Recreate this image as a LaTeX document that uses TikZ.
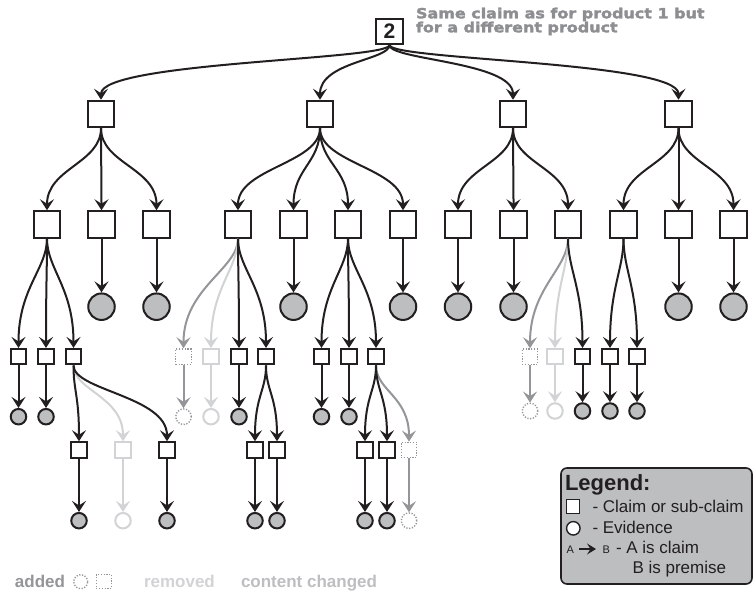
\documentclass[tikz,border=0pt]{standalone}
\usepackage{fontspec}
\setmainfont{Liberation Sans}
\newfontfamily\notefont[FakeStretch=1.14, FakeBold=2.2]{DejaVu Sans Bold}
\usetikzlibrary{arrows.meta}

\definecolor{ink}{HTML}{231F20}
\definecolor{leafgray}{HTML}{BCBEC0}
\definecolor{addgray}{HTML}{939598}
\definecolor{remgray}{HTML}{D1D3D4}
\definecolor{notegray}{HTML}{8C8E91}

\begin{document}
\begin{tikzpicture}[x=1pt, y=-1pt, line width=2pt,
    claim/.style={draw=ink, fill=white, minimum size=26.5pt, inner sep=0pt},
    subclaim/.style={draw=ink, fill=white, minimum size=15.5pt, inner sep=0pt},
    evidence/.style={circle, draw=ink, fill=leafgray, minimum size=26.5pt, inner sep=0pt},
    subevidence/.style={circle, draw=ink, fill=leafgray, minimum size=15.5pt, inner sep=0pt},
    added/.style={draw=addgray, fill=white, line width=1.4pt, dash pattern=on 1.2pt off 1.6pt},
    removed/.style={draw=remgray, fill=white},
    link/.style={draw=ink, -{Stealth[length=11pt,width=14pt,inset=4.5pt]}},
    addlink/.style={link, draw=addgray},
    remlink/.style={link, draw=remgray},
    label/.style={inner sep=0pt, anchor=base west}]

  \useasboundingbox (0,0) rectangle (753,594);

  % top claim
  \node[claim, minimum width=27pt, minimum height=25pt, font=\bfseries\fontsize{21}{21}\selectfont, text=ink] (root) at (389.5,31.5) {2};
  \node[label, text=notegray, font=\notefont\fontsize{14}{14}\selectfont] (note1) at (415,18.3) {Same claim as for product 1 but};
  \node[label, text=notegray, font=\notefont\fontsize{14}{14}\selectfont] (note2) at (415,32.3) {for a different product};

  % sub-claims, first level
  \foreach \n/\x in {c1/101, c2/320, c3/513, c4/678.5}
    \node[claim] (\n) at (\x,114) {};

  % sub-claims, second level
  \foreach \n/\x in {c11/47, c12/101.5, c13/156.5, c21/238, c22/293.5, c23/348, c24/403,
                     c31/458, c32/513.5, c33/568, c41/623.5, c42/678.5, c43/733.5}
    \node[claim] (\n) at (\x,224.5) {};

  % evidence under second level
  \foreach \n/\x in {e12/101.5, e13/156.5, e22/293.5, e24/403, e31/458, e32/513.5, e42/678.5, e43/733.5}
    \node[evidence] (\n) at (\x,306.7) {};

  % small sub-claims
  \foreach \n/\x/\s in {s111/18.5/, s112/46/, s113/73.5/, s211/183.5/added, s212/211/removed, s213/239/, s214/266/,
                        s231/321.5/, s232/349/, s233/376/, s331/530/added, s332/555/removed, s333/582.5/,
                        s411/610/, s412/637/}
    \node[subclaim, \s] (\n) at (\x,356.7) {};

  % small evidence
  \foreach \n/\x/\y/\s in {v111/18.5/416.7/, v112/46/416.7/, v211/183.5/416.7/added, v212/211/416.7/removed,
                           v213/239/416.7/, v231/321.5/416.7/, v232/349/416.7/,
                           v331/530/411/added, v332/555/411/removed, v333/582.5/411/, v411/610/411/, v412/637/411/}
    \node[subevidence, \s] (\n) at (\x,\y) {};

  % lowest sub-claims and their evidence
  \foreach \i/\x/\s in {1/79/, 2/123/removed, 3/167/, 4/255/, 5/277/, 6/365/, 7/387/, 8/409/added} {
    \node[subclaim, \s] (t\i) at (\x,450) {};
    \node[subevidence, \s] (w\i) at (\x,520.7) {};
  }

  % links
  \foreach \c in {c1, c2, c3, c4}
    \draw[link] (root.south) .. controls +(0,15) and +(0,-38) .. (\c.north);

  \foreach \p/\c in {c1/c11, c1/c12, c1/c13, c2/c21, c2/c22, c2/c23, c2/c24,
                     c3/c31, c3/c32, c3/c33, c4/c41, c4/c42, c4/c43}
    \draw[link] (\p.south) .. controls +(0,35) and +(0,-42) .. (\c.north);

  \foreach \p/\c/\s in {c21/s211/addlink, c21/s212/remlink, c33/s331/addlink, c33/s332/remlink,
                        c11/s111/link, c11/s112/link, c11/s113/link, c21/s213/link, c21/s214/link,
                        c23/s231/link, c23/s232/link, c23/s233/link, c33/s333/link,
                        c41/s411/link, c41/s412/link}
    \draw[\s] (\p.south) .. controls +(0,30) and +(0,-60) .. (\c.north);

  \foreach \p/\c in {c12/e12, c13/e13, c22/e22, c24/e24, c31/e31, c32/e32, c42/e42, c43/e43}
    \draw[link] (\p) -- (\c.north);

  \foreach \p/\c/\s in {s111/v111/link, s112/v112/link, s211/v211/addlink, s212/v212/remlink,
                        s213/v213/link, s231/v231/link, s232/v232/link, s331/v331/addlink,
                        s332/v332/remlink, s333/v333/link, s411/v411/link, s412/v412/link}
    \draw[\s] (\p) -- (\c.north);

  \foreach \p/\c/\s in {s113/t2/remlink, s233/t8/addlink, s113/t1/link, s113/t3/link,
                        s214/t4/link, s214/t5/link, s233/t6/link, s233/t7/link}
    \draw[\s] (\p.south) .. controls +(0,25) and +(0,-45) .. (\c.north);

  \foreach \i/\s in {1/link, 2/remlink, 3/link, 4/link, 5/link, 6/link, 7/link, 8/addlink}
    \draw[\s] (t\i) -- (w\i.north);

  % key for changes
  \node[label, text=addgray, font=\bfseries\fontsize{17}{17}\selectfont] (addtext) at (14,587.5) {added};
  \node[circle, added, minimum size=14pt, inner sep=0pt] (addcirc) at (80.7,581.7) {};
  \node[added, minimum width=15.5pt, minimum height=14pt, inner sep=0pt] (addbox) at (104,581.5) {};
  \node[label, text=remgray, font=\bfseries\fontsize{17}{17}\selectfont] (remtext) at (143,587.5) {removed};
  \node[label, text=leafgray, font=\bfseries\fontsize{17}{17}\selectfont] (chgtext) at (240,587.5) {content changed};

  % legend
  \draw[draw=ink, fill=leafgray, line width=1.6pt, rounded corners=6pt] (561,468) rectangle (752,584);
  \node[label, text=ink, font=\bfseries\fontsize{22}{22}\selectfont] (legtitle) at (564,490) {Legend:};
  \node[draw=ink, fill=white, line width=1.4pt, minimum size=13.5pt, inner sep=0pt] (legbox) at (573,506.5) {};
  \node[label, text=ink, font=\fontsize{17}{17}\selectfont] (legclaim) at (591.5,512.5) {- Claim or sub-claim};
  \node[circle, draw=ink, fill=white, line width=1.4pt, minimum size=13.5pt, inner sep=0pt] (legcirc) at (573.3,528.3) {};
  \node[label, text=ink, font=\fontsize{17}{17}\selectfont] (legevid) at (591.5,533) {- Evidence};
  \node[label, text=ink, font=\fontsize{11}{11}\selectfont] (legA) at (565.5,553) {A};
  \node[label, text=ink, font=\fontsize{11}{11}\selectfont] (legB) at (601.5,553) {B};
  \coordinate (legfrom) at (579,549);
  \coordinate (legto) at (596,549);
  \draw[draw=ink, line width=1.8pt, -{Stealth[length=9pt,width=11pt,inset=3.5pt]}] (legfrom) -- (legto);
  \node[label, text=ink, font=\fontsize{17}{17}\selectfont] (legrel1) at (615,553) {- A is claim};
  \node[label, text=ink, font=\fontsize{17}{17}\selectfont] (legrel2) at (631.5,573) {B is premise};
\end{tikzpicture}
\end{document}
